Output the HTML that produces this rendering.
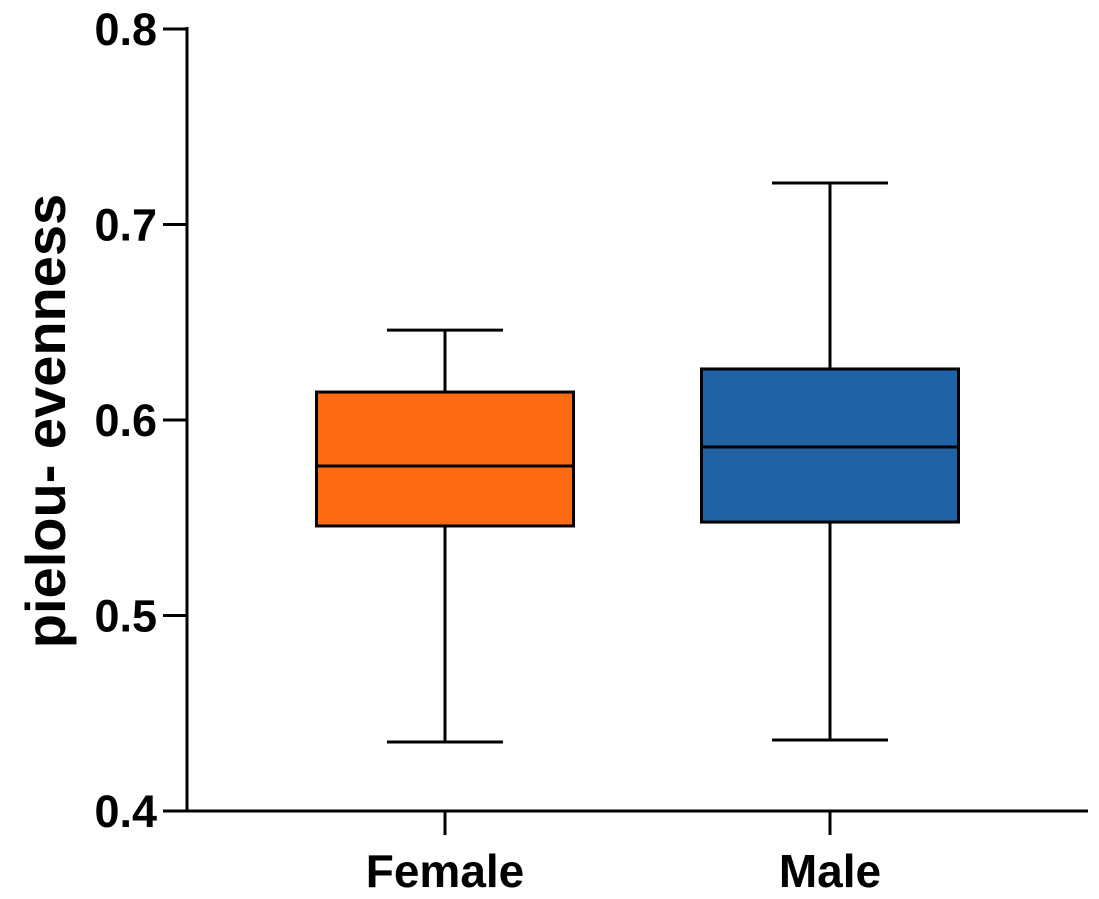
<!DOCTYPE html>
<html><head><meta charset="utf-8"><style>
html,body{margin:0;padding:0;background:#fff;}
svg{display:block;font-family:"Liberation Sans",Arial,sans-serif;font-weight:bold;}
</style></head><body>
<svg id="chart" width="1099" height="899" viewBox="0 0 1099 899"></svg>
<script>
const categories = ["Female", "Male"];
const mins = [0.4353, 0.4363];
const q1s = [0.5458, 0.5478];
const medians = [0.5765, 0.5862];
const q3s = [0.6143, 0.6261];
const maxs = [0.646, 0.7212];
const colors = ["#ff6b12", "#1f62a5"];
const yTicks = [0.4, 0.5, 0.6, 0.7, 0.8];
const yTickLabels = ["0.4", "0.5", "0.6", "0.7", "0.8"];

const NS = "http://www.w3.org/2000/svg";
const svg = document.getElementById("chart");
const y0 = 811, y1 = 29, vMin = 0.4, vMax = 0.8;
const yScale = v => y0 - (v - vMin) / (vMax - vMin) * (y0 - y1);
const xLeft = 187, xRight = 1088;
const centers = [445, 830];
const xScale = i => centers[i];
const boxW = 257;
function el(tag, attrs, parent) {
  const e = document.createElementNS(NS, tag);
  for (const k in attrs) e.setAttribute(k, attrs[k]);
  (parent || svg).appendChild(e);
  return e;
}
const S = {stroke: "#000", "stroke-width": 3, fill: "none"};

let a = el("line", Object.assign({x1: xLeft, y1: y1 - 2, x2: xLeft, y2: y0 + 1.5}, S));


a = el("line", Object.assign({x1: xLeft - 1.5, y1: y0, x2: xRight, y2: y0}, S));



yTicks.forEach((v, i) => {
  const y = yScale(v);
  const t = el("line", Object.assign({x1: 163, y1: y, x2: xLeft, y2: y}, S));
  
  
  const tx = el("text", {x: 157, y: y + 16, "text-anchor": "end", "font-size": 45});
  tx.textContent = yTickLabels[i];
  
  
});

const yt = el("text", {x: 0, y: 0, "text-anchor": "middle", "font-size": 56, transform: "translate(65,421) rotate(-90)"});
yt.textContent = "pielou- evenness";



categories.forEach((c, i) => {
  const cx = xScale(i);
  const g = el("g", {});
  
  
  const wl = 58;
  el("line", Object.assign({x1: cx, y1: yScale(maxs[i]), x2: cx, y2: yScale(q3s[i])}, S), g);
  el("line", Object.assign({x1: cx, y1: yScale(q1s[i]), x2: cx, y2: yScale(mins[i])}, S), g);
  el("line", Object.assign({x1: cx - wl, y1: yScale(maxs[i]), x2: cx + wl, y2: yScale(maxs[i])}, S), g);
  el("line", Object.assign({x1: cx - wl, y1: yScale(mins[i]), x2: cx + wl, y2: yScale(mins[i])}, S), g);
  el("rect", {x: cx - boxW / 2, y: yScale(q3s[i]), width: boxW, height: yScale(q1s[i]) - yScale(q3s[i]), fill: colors[i], stroke: "#000", "stroke-width": 3}, g);
  el("line", Object.assign({x1: cx - boxW / 2, y1: yScale(medians[i]), x2: cx + boxW / 2, y2: yScale(medians[i])}, S), g);
  const t = el("line", Object.assign({x1: cx, y1: y0, x2: cx, y2: y0 + 24}, S));
  
  
  const tx = el("text", {x: cx, y: 887, "text-anchor": "middle", "font-size": 46});
  tx.textContent = c;
  
  
});
</script>
</body></html>
